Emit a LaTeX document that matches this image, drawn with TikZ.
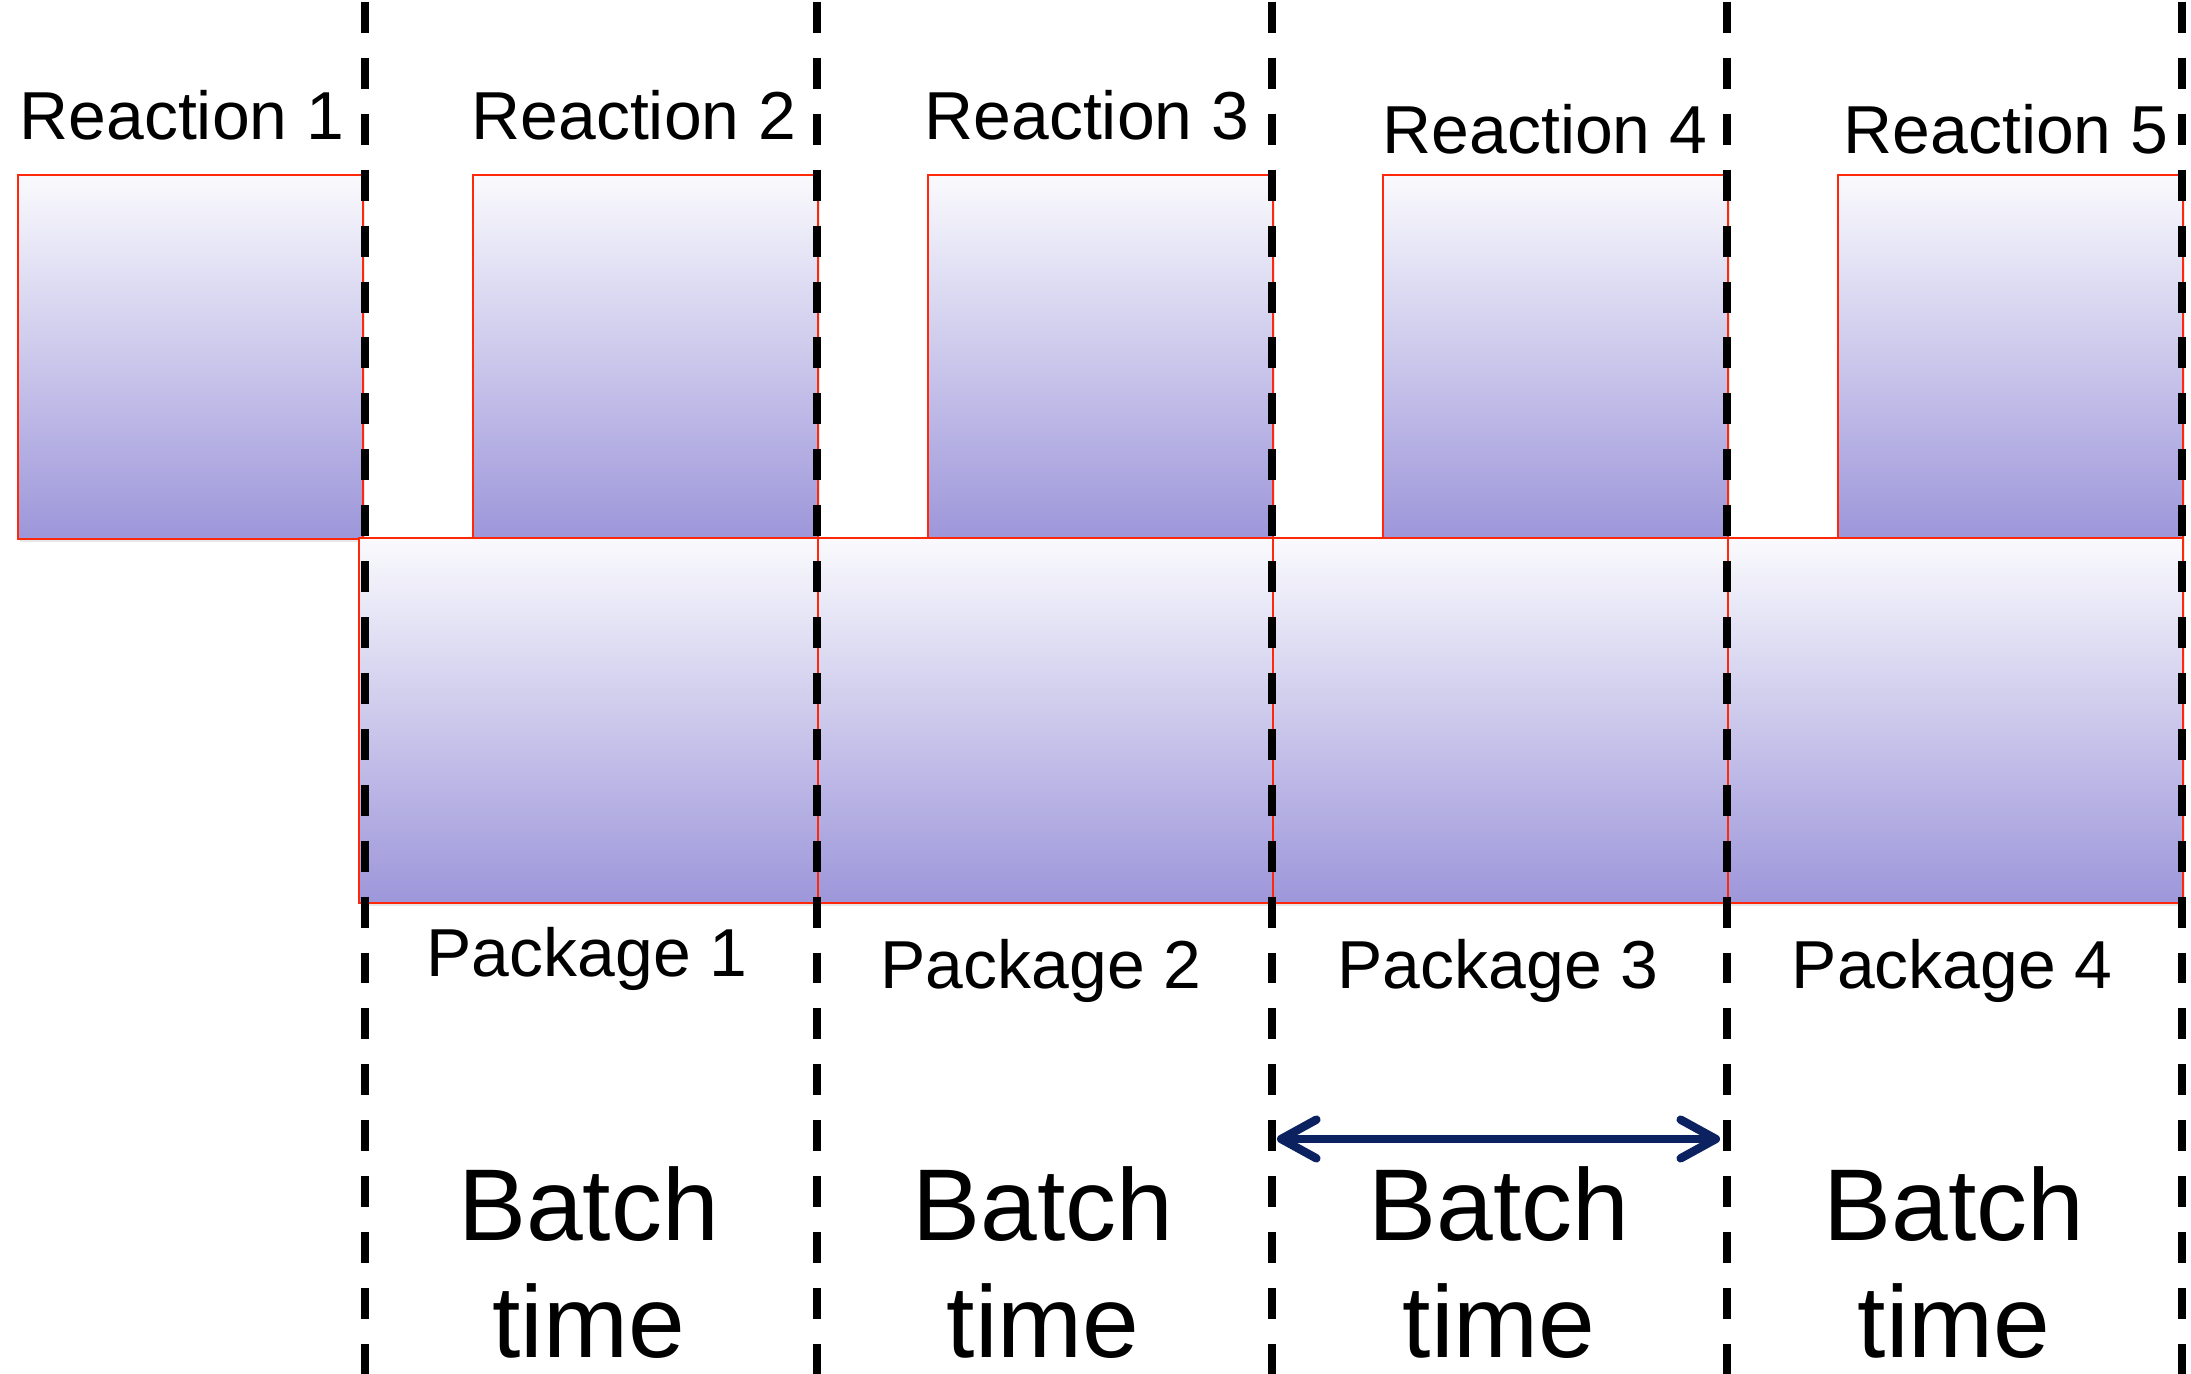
\documentclass[tikz,border=0pt]{standalone}
\usepackage{fontspec}
\setmainfont{Liberation Sans}
\usetikzlibrary{arrows.meta,shadows}

\definecolor{boxtop}{RGB}{250,250,253}
\definecolor{boxbottom}{RGB}{157,150,218}
\definecolor{boxedge}{RGB}{255,40,10}
\definecolor{spanarrow}{RGB}{12,33,96}

\tikzset{
  slot/.style={rectangle, draw=boxedge, line width=0.6pt, inner sep=0pt,
    top color=boxtop, bottom color=boxbottom,
    drop shadow={shadow xshift=0.5pt, shadow yshift=-0.9pt, opacity=0.18}},
  reactionbox/.style={slot, minimum width=3.45cm, minimum height=3.635cm},
  packagebox/.style={slot, minimum width=4.55cm, minimum height=3.645cm},
  smalllabel/.style={inner sep=0pt, anchor=base west, font=\fontsize{19.3}{22}\selectfont},
  biglabel/.style={inner sep=0pt, anchor=base, font=\fontsize{29}{33}\selectfont},
  divider/.style={line width=2.3pt, draw=black, dash pattern=on 8.8pt off 7.1pt},
  spanline/.style={draw=spanarrow, line width=2.4pt, line cap=round,
    {Straight Barb[length=10pt, width=11pt, round]}-{Straight Barb[length=10pt, width=11pt, round]}}
}

\begin{document}
\begin{tikzpicture}[x=0.01cm, y=-0.01cm]
  \useasboundingbox (0,0) rectangle (2191,1374);

  % reaction slots (top row)
  \node[reactionbox] (r1) at (190.5,356.75) {};
  \node[reactionbox] (r2) at (645.5,356.75) {};
  \node[reactionbox] (r3) at (1100.5,356.75) {};
  \node[reactionbox] (r4) at (1555.5,356.75) {};
  \node[reactionbox] (r5) at (2010.5,356.75) {};

  % package slots (bottom row)
  \node[packagebox, minimum width=4.59cm] (p1) at (588.5,720.75) {};
  \node[packagebox] (p2) at (1045.5,720.75) {};
  \node[packagebox] (p3) at (1500.5,720.75) {};
  \node[packagebox] (p4) at (1955.5,720.75) {};

  % labels
  \node[smalllabel] (lr1) at (19,140) {Reaction 1};
  \node[smalllabel] (lr2) at (471,140) {Reaction 2};
  \node[smalllabel] (lr3) at (924,140) {Reaction 3};
  \node[smalllabel] (lr4) at (1382,154) {Reaction 4};
  \node[smalllabel] (lr5) at (1843,154) {Reaction 5};

  \node[smalllabel] (lp1) at (426,977) {Package 1};
  \node[smalllabel] (lp2) at (880,989) {Package 2};
  \node[smalllabel] (lp3) at (1337,989) {Package 3};
  \node[smalllabel] (lp4) at (1791,989) {Package 4};

  \foreach \i/\cx in {1/588.5, 2/1043, 3/1499, 4/1954} {
    \node[biglabel] (bt\i) at (\cx,1241) {Batch};
    \node[biglabel] (tm\i) at (\cx,1357) {time};
  }

  % batch boundaries
  \foreach \i/\dx in {1/365, 2/817, 3/1272, 4/1727, 5/2182} {
    \coordinate (top\i) at (\dx,2);
    \coordinate (bot\i) at (\dx,1374);
    \draw[divider] (top\i) -- (bot\i);
  }

  % one batch period
  \coordinate (spanL) at (1277,1139);
  \coordinate (spanR) at (1720,1139);
  \draw[spanline] (spanL) -- (spanR);
\end{tikzpicture}
\end{document}
